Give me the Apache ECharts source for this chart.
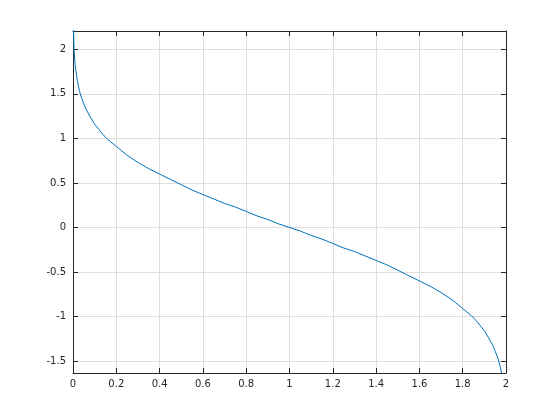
<!DOCTYPE html>
<html>
<head>
<meta charset="utf-8">
<script src="https://cdn.jsdelivr.net/npm/echarts@6/dist/echarts.min.js"></script>
<style>html,body{margin:0;padding:0;background:#fff;}#c{width:560px;height:420px;}</style>
</head>
<body>
<div id="c"></div>
<script>
var xValues = [0.001, 0.005, 0.01, 0.02, 0.03, 0.04, 0.05, 0.06, 0.08, 0.10, 0.12, 0.14, 0.16, 0.18, 0.20,
  0.25, 0.30, 0.35, 0.40, 0.45, 0.50, 0.55, 0.60, 0.65, 0.70, 0.75, 0.80, 0.85, 0.90, 0.95, 1.00,
  1.05, 1.10, 1.15, 1.20, 1.25, 1.30, 1.35, 1.40, 1.45, 1.50, 1.55, 1.60, 1.65, 1.70, 1.75, 1.80,
  1.82, 1.84, 1.86, 1.88, 1.90, 1.92, 1.94, 1.95, 1.96, 1.97, 1.98];
var yValues = [2.33, 1.99, 1.82, 1.65, 1.53, 1.45, 1.39, 1.33, 1.24, 1.16, 1.10, 1.04, 0.99, 0.95, 0.91,
  0.81, 0.73, 0.66, 0.60, 0.54, 0.48, 0.42, 0.37, 0.32, 0.27, 0.23, 0.18, 0.13, 0.09, 0.04, 0.00,
  -0.04, -0.09, -0.13, -0.18, -0.23, -0.27, -0.32, -0.37, -0.42, -0.48, -0.54, -0.60, -0.66, -0.73, -0.81, -0.91,
  -0.95, -0.99, -1.04, -1.10, -1.16, -1.24, -1.33, -1.39, -1.45, -1.53, -1.64];
var xTicks = [0, 0.2, 0.4, 0.6, 0.8, 1, 1.2, 1.4, 1.6, 1.8, 2];
var yTicks = [-1.5, -1, -0.5, 0, 0.5, 1, 1.5, 2];

var axisColor = '#262626';
var gridColor = '#dedede';
var font = 'DejaVu Sans';
var yMin = -1.634, yMax = 2.206;

var chart = echarts.init(document.getElementById('c'), null, {renderer: 'canvas'});
var data = xValues.map(function (x, i) { return [x, yValues[i]]; });

function xAxisDef(pos, showLabel) {
  return {
    type: 'value', position: pos, min: 0, max: 2, interval: 0.2,
    axisLine: {show: true, onZero: false, lineStyle: {color: axisColor, width: 1}},
    axisTick: {show: true, inside: true, length: 5, lineStyle: {color: axisColor}},
    axisLabel: {show: showLabel, color: axisColor, fontFamily: font, fontSize: 10, margin: 6,
      formatter: function (v) { return String(Math.round(v * 10) / 10); }},
    splitLine: {show: showLabel, lineStyle: {color: gridColor, width: 1}}
  };
}
function yAxisDef(pos, showLabel) {
  return {
    type: 'value', position: pos, min: yMin, max: yMax,
    axisLine: {show: true, onZero: false, lineStyle: {color: axisColor, width: 1}},
    axisTick: {show: true, inside: true, length: 5, customValues: yTicks, lineStyle: {color: axisColor}},
    axisLabel: {show: showLabel, customValues: yTicks, color: axisColor, fontFamily: font, fontSize: 10, margin: 7,
      formatter: function (v) { return String(v); }},
    splitLine: {show: showLabel, lineStyle: {color: gridColor, width: 1}}
  };
}

chart.setOption({
  animation: false,
  backgroundColor: '#ffffff',
  grid: {left: 73, top: 31, right: 54, bottom: 47, containLabel: false},
  xAxis: [xAxisDef('bottom', true), xAxisDef('top', false)],
  yAxis: [yAxisDef('left', true), yAxisDef('right', false)],
  series: [{
    type: 'line', xAxisIndex: 0, yAxisIndex: 0, data: data,
    showSymbol: false, symbol: 'none', smooth: false, clip: true,
    lineStyle: {color: '#0072BD', width: 1}
  }]
});
</script>
</body>
</html>
